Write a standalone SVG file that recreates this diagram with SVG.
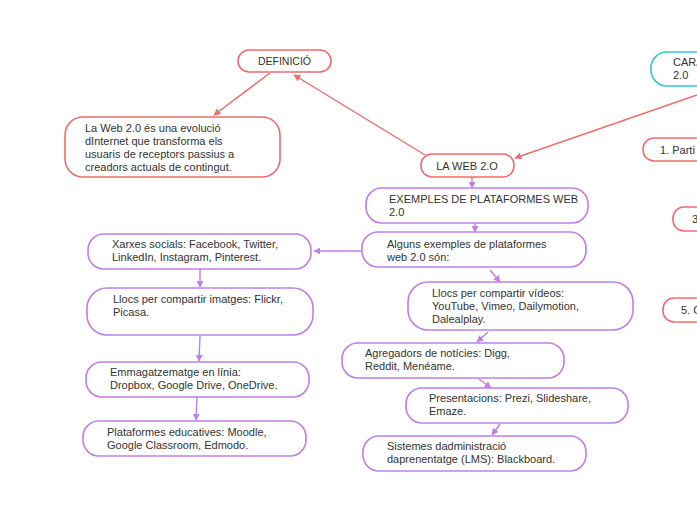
<svg xmlns="http://www.w3.org/2000/svg" width="697" height="520" viewBox="0 0 697 520">
<defs>
<marker id="ar" viewBox="0 0 10 10" refX="9" refY="5" markerWidth="7" markerHeight="7" markerUnits="userSpaceOnUse" orient="auto"><path d="M0,0 L10,5 L0,10 z" fill="#f26b6b"/></marker>
<marker id="ap" viewBox="0 0 10 10" refX="9" refY="5" markerWidth="7" markerHeight="7" markerUnits="userSpaceOnUse" orient="auto"><path d="M0,0 L10,5 L0,10 z" fill="#c27de8"/></marker>
<style>
.r{fill:#fff;stroke:#f26b6b;stroke-width:1.6}
.p{fill:#fff;stroke:#c27de8;stroke-width:1.6}
.c{fill:#fff;stroke:#2ec7d6;stroke-width:1.6}
text{font-family:"Liberation Sans",Arial,sans-serif;font-size:11px;fill:#333}
.lr{stroke:#f26b6b;stroke-width:1.4;fill:none}
.lp{stroke:#c27de8;stroke-width:1.4;fill:none}
</style>
</defs>
<rect width="697" height="520" fill="#fff"/>
<g id="connectors">
<line class="lr" x1="270" y1="73" x2="214" y2="115" marker-end="url(#ar)"/>
<line class="lr" x1="425" y1="155" x2="294" y2="75" marker-end="url(#ar)"/>
<line class="lr" x1="697" y1="95" x2="515" y2="158" marker-end="url(#ar)"/>
<line class="lp" x1="472" y1="177" x2="472" y2="188" marker-end="url(#ap)"/>
<line class="lp" x1="475" y1="223" x2="475" y2="232" marker-end="url(#ap)"/>
<line class="lp" x1="362" y1="251" x2="314" y2="251" marker-end="url(#ap)"/>
<line class="lp" x1="200" y1="269" x2="200" y2="287" marker-end="url(#ap)"/>
<line class="lp" x1="200" y1="336" x2="199" y2="361" marker-end="url(#ap)"/>
<line class="lp" x1="197" y1="397" x2="196" y2="420" marker-end="url(#ap)"/>
<line class="lp" x1="490" y1="270" x2="500" y2="282" marker-end="url(#ap)"/>
<line class="lp" x1="488" y1="332" x2="477" y2="342" marker-end="url(#ap)"/>
<line class="lp" x1="479" y1="379" x2="491" y2="388" marker-end="url(#ap)"/>
<line class="lp" x1="500" y1="424" x2="492" y2="435" marker-end="url(#ap)"/>
</g>
<g id="definicio"><rect class="r" x="238" y="50" width="93" height="22" rx="11"/><text x="284.5" y="65" text-anchor="middle" style="font-size:10.5px">DEFINICIÓ</text></g>
<g id="definicio-text"><rect class="r" x="65" y="117" width="215" height="60" rx="18"/>
<text x="85" y="132">La Web 2.0 és una evolució</text><text x="85" y="145">dInternet que transforma els</text><text x="85" y="158">usuaris de receptors passius a</text><text x="85" y="171">creadors actuals de contingut.</text></g>
<g id="laweb"><rect class="r" x="421" y="154" width="93" height="23" rx="11"/><text x="467" y="170" text-anchor="middle">LA WEB 2.O</text></g>
<g id="caracteristiques"><rect class="c" x="651" y="52" width="80" height="34" rx="16"/><text x="673" y="66">CARA</text><text x="673" y="79">2.0</text></g>
<g id="c1"><rect class="r" x="643" y="138" width="80" height="23" rx="11"/><text x="660" y="154">1.  Parti</text></g>
<g id="c3"><rect class="r" x="673" y="207" width="60" height="24" rx="11"/><text x="692" y="223">3</text></g>
<g id="c5"><rect class="r" x="663" y="298" width="60" height="24" rx="11"/><text x="681" y="314">5. C</text></g>
<g id="exemples"><rect class="p" x="366" y="188" width="222" height="35" rx="16"/><text x="389" y="203">EXEMPLES DE PLATAFORMES WEB</text><text x="389" y="216">2.0</text></g>
<g id="alguns"><rect class="p" x="362" y="232" width="224" height="35" rx="16"/><text x="387" y="248">Alguns exemples de plataformes</text><text x="387" y="261">web 2.0 són:</text></g>
<g id="xarxes"><rect class="p" x="88" y="234" width="223" height="35" rx="16"/><text x="112" y="248">Xarxes socials: Facebook, Twitter,</text><text x="112" y="261">LinkedIn, Instagram, Pinterest.</text></g>
<g id="imatges"><rect class="p" x="87" y="288" width="226" height="47" rx="20"/><text x="113" y="303">Llocs per compartir imatges: Flickr,</text><text x="113" y="316">Picasa.</text></g>
<g id="emmagatzematge"><rect class="p" x="86" y="362" width="223" height="35" rx="16"/><text x="110" y="376">Emmagatzematge en línia:</text><text x="110" y="389">Dropbox, Google Drive, OneDrive.</text></g>
<g id="educatives"><rect class="p" x="83" y="421" width="223" height="35" rx="16"/><text x="107" y="436">Plataformes educatives: Moodle,</text><text x="107" y="449">Google Classroom, Edmodo.</text></g>
<g id="videos"><rect class="p" x="408" y="282" width="225" height="48" rx="20"/><text x="432" y="297">Llocs per compartir vídeos:</text><text x="432" y="310">YouTube, Vimeo, Dailymotion,</text><text x="432" y="323">Dalealplay.</text></g>
<g id="agregadors"><rect class="p" x="342" y="343" width="222" height="35" rx="16"/><text x="365" y="357">Agregadors de notícies: Digg,</text><text x="365" y="370">Reddit, Menéame.</text></g>
<g id="presentacions"><rect class="p" x="406" y="388" width="222" height="35" rx="16"/><text x="429" y="402">Presentacions: Prezi, Slideshare,</text><text x="429" y="415">Emaze.</text></g>
<g id="lms"><rect class="p" x="363" y="436" width="223" height="35" rx="16"/><text x="387" y="450">Sistemes dadministració</text><text x="387" y="463">daprenentatge (LMS): Blackboard.</text></g>
</svg>
